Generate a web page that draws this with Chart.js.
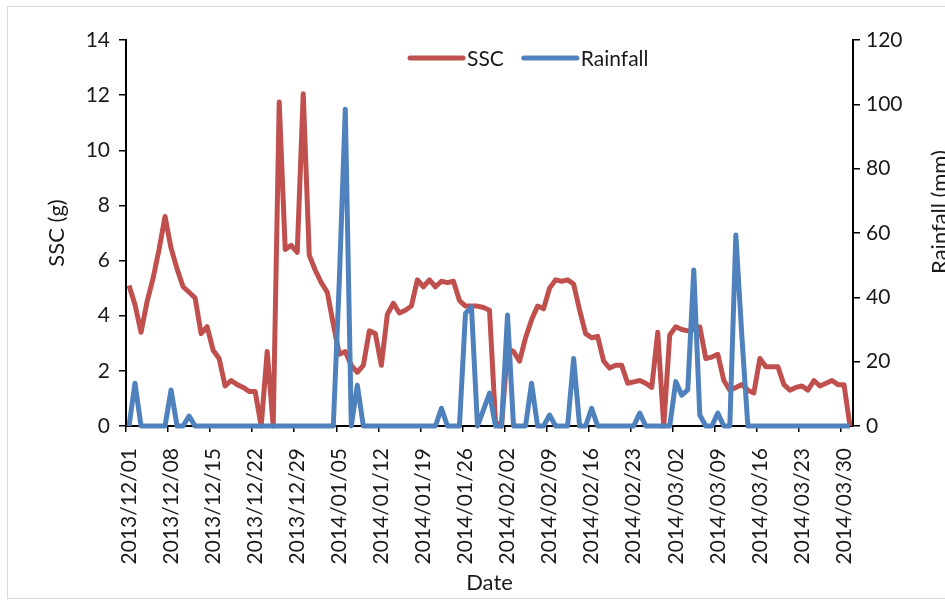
<!DOCTYPE html>
<html>
<head>
<meta charset="utf-8">
<title>SSC and Rainfall</title>
<script src="https://cdn.jsdelivr.net/npm/chart.js@4.4.1/dist/chart.umd.min.js"></script>
<style>
  html, body { margin: 0; padding: 0; background: #fff; overflow: hidden; }
  #wrap { position: relative; width: 975px; height: 604px; }
</style>
</head>
<body>
<div id="wrap"><canvas id="chart" width="975" height="604"></canvas></div>
<script>
// Daily record, 2013/12/01 - 2014/03/31
const startDate = '2013-12-01';
const dayCount = 121;
const tickEvery = 7;

// SSC (g), one value per day
const ssc = [
  5.1, 4.4, 3.4, 4.5, 5.35, 6.4, 7.6, 6.45, 5.7, 5.05,
  4.85, 4.65, 3.35, 3.6, 2.75, 2.45, 1.45, 1.65, 1.5, 1.4,
  1.25, 1.25, 0, 2.7, 0, 11.75, 6.4, 6.55, 6.3, 12.05,
  6.2, 5.65, 5.2, 4.85, 3.7, 2.6, 2.7, 2.2, 1.95, 2.2,
  3.45, 3.35, 2.2, 4.05, 4.45, 4.1, 4.2, 4.35, 5.3, 5.05,
  5.3, 5.05, 5.25, 5.2, 5.25, 4.55, 4.35, 4.35, 4.35, 4.3,
  4.2, 0.15, 0, 2.8, 2.7, 2.35, 3.2, 3.85, 4.35, 4.25,
  5.0, 5.3, 5.25, 5.3, 5.15, 4.2, 3.35, 3.2, 3.25, 2.35,
  2.1, 2.2, 2.2, 1.55, 1.6, 1.65, 1.55, 1.4, 3.4, 0,
  3.3, 3.6, 3.5, 3.45, 3.5, 3.6, 2.45, 2.5, 2.6, 1.65,
  1.3, 1.4, 1.5, 1.3, 1.2, 2.45, 2.15, 2.15, 2.15, 1.5,
  1.3, 1.4, 1.45, 1.3, 1.65, 1.45, 1.55, 1.65, 1.5, 1.5,
  0
];

// Rainfall (mm), one value per day
const rainfall = [
  0, 13.3, 0, 0, 0, 0, 0, 11.2, 0, 0,
  3.1, 0, 0, 0, 0, 0, 0, 0, 0, 0,
  0, 0, 0, 0, 0, 0, 0, 0, 0, 0,
  0, 0, 0, 0, 0, 45, 98.5, 0, 12.7, 0,
  0, 0, 0, 0, 0, 0, 0, 0, 0, 0,
  0, 0, 5.5, 0, 0, 0, 35, 37, 0, 5,
  10.2, 0, 0, 34.5, 0, 0, 0, 13.3, 0, 0,
  3.4, 0, 0, 0, 21, 0, 0, 5.5, 0, 0,
  0, 0, 0, 0, 0, 4, 0, 0, 0, 0,
  0, 13.8, 9.6, 11.2, 48.5, 3.4, 0, 0, 4, 0,
  0, 59.4, 28, 0, 0, 0, 0, 0, 0, 0,
  0, 0, 0, 0, 0, 0, 0, 0, 0, 0,
  0
];

const sscColor = '#C0504D';
const rainColor = '#4F81BD';
const textColor = '#1a1a1a';
const fontFamily = 'Lato, "Open Sans", sans-serif';
const seriesWidth = 5;

function buildDates(start, n) {
  const out = [];
  const t0 = new Date(start + 'T00:00:00Z').getTime();
  for (let i = 0; i < n; i++) {
    const d = new Date(t0 + i * 86400000);
    const mm = String(d.getUTCMonth() + 1).padStart(2, '0');
    const dd = String(d.getUTCDate()).padStart(2, '0');
    out.push(d.getUTCFullYear() + '/' + mm + '/' + dd);
  }
  return out;
}

const dates = buildDates(startDate, dayCount);

// white sheet with a thin grey frame
const frame = {
  id: 'frame',
  beforeDraw(chart) {
    const c = chart.ctx;
    c.save();
    c.fillStyle = '#fff';
    c.fillRect(0, 0, chart.width, chart.height);
    c.strokeStyle = '#d9d9d9';
    c.lineWidth = 1;
    c.strokeRect(7.5, 6.5, chart.width, 592);
    c.restore();
  }
};

// legend drawn inside the plot, line samples + labels
const lineLegend = {
  id: 'lineLegend',
  afterDraw(chart) {
    const c = chart.ctx;
    let x = 410;
    const y = 58;
    c.save();
    c.font = '21px ' + fontFamily;
    c.textBaseline = 'middle';
    chart.data.datasets.forEach(ds => {
      c.strokeStyle = ds.borderColor;
      c.lineWidth = seriesWidth;
      c.lineCap = 'round';
      c.beginPath();
      c.moveTo(x, y);
      c.lineTo(x + 53, y);
      c.stroke();
      x += 57;
      c.fillStyle = textColor;
      c.fillText(ds.label, x, y + 1);
      x += c.measureText(ds.label).width + 20;
    });
    c.restore();
  }
};

// right axis title reads bottom-to-top like the left one
const rightTitle = {
  id: 'rightTitle',
  afterDraw(chart) {
    const c = chart.ctx;
    c.save();
    c.translate(940, 212);
    c.rotate(-Math.PI / 2);
    c.font = '22px ' + fontFamily;
    c.fillStyle = textColor;
    c.textAlign = 'center';
    c.textBaseline = 'middle';
    c.fillText('Rainfall (mm)', 0, 0);
    c.restore();
  }
};

const tickFont = { family: fontFamily, size: 21 };
const titleFont = { family: fontFamily, size: 22 };

new Chart(document.getElementById('chart'), {
  type: 'line',
  data: {
    labels: dates,
    datasets: [
      {
        label: 'SSC',
        data: ssc,
        yAxisID: 'y',
        borderColor: sscColor,
        backgroundColor: sscColor,
        borderWidth: seriesWidth,
        pointRadius: 0,
        tension: 0,
        borderJoinStyle: 'round',
        clip: false,
        order: 1
      },
      {
        label: 'Rainfall',
        data: rainfall,
        yAxisID: 'y1',
        borderColor: rainColor,
        backgroundColor: rainColor,
        borderWidth: seriesWidth,
        pointRadius: 0,
        tension: 0,
        borderJoinStyle: 'round',
        clip: false,
        order: 0
      }
    ]
  },
  options: {
    responsive: false,
    devicePixelRatio: 1,
    animation: false,
    layout: { padding: { top: 40, left: 0, right: 0, bottom: 0 } },
    plugins: {
      legend: { display: false },
      tooltip: { enabled: false }
    },
    scales: {
      x: {
        type: 'category',
        offset: true,
        grid: {
          offset: true,
          drawOnChartArea: false,
          tickLength: 6,
          lineWidth: 1.5,
          color: ctx => (ctx.index % tickEvery === 0 ? '#000' : 'rgba(0,0,0,0)')
        },
        border: { color: '#000', width: 2 },
        ticks: {
          autoSkip: false,
          maxRotation: 90,
          minRotation: 90,
          padding: 16,
          color: textColor,
          font: tickFont,
          callback: (value, index) => (index % tickEvery === 0 ? dates[index] : '')
        },
        title: {
          display: true,
          text: 'Date',
          color: textColor,
          font: titleFont,
          padding: { top: 0, bottom: 8 }
        },
        afterFit: s => { s.height = 178; }
      },
      y: {
        position: 'left',
        min: 0,
        max: 14,
        grid: { drawOnChartArea: false, tickLength: 7, lineWidth: 1.5, color: '#000' },
        border: { color: '#000', width: 2 },
        ticks: { stepSize: 2, padding: 9, color: textColor, font: tickFont },
        title: {
          display: true,
          text: 'SSC (g)',
          color: textColor,
          font: titleFont,
          padding: { top: 44, bottom: 0 }
        },
        afterFit: s => { s.width = 126; }
      },
      y1: {
        position: 'right',
        min: 0,
        max: 120,
        grid: { drawOnChartArea: false, tickLength: 7, lineWidth: 1.5, color: '#000' },
        border: { color: '#000', width: 2 },
        ticks: { stepSize: 20, padding: 6, color: textColor, font: tickFont },
        afterFit: s => { s.width = 122; }
      }
    }
  },
  plugins: [frame, lineLegend, rightTitle]
});
</script>
</body>
</html>
